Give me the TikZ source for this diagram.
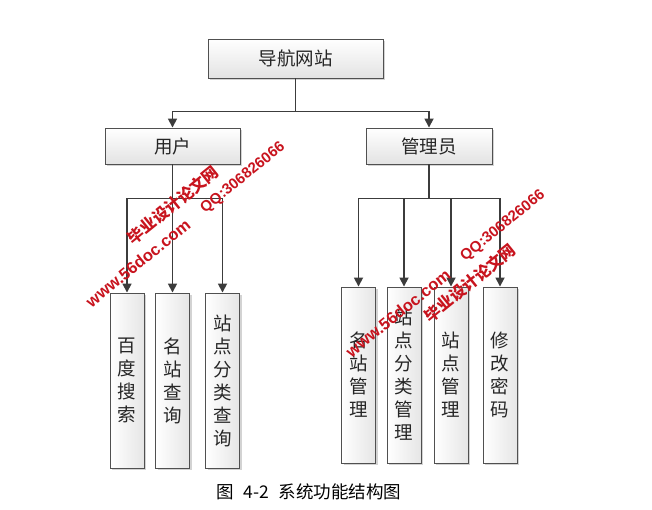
\documentclass[tikz,border=0pt]{standalone}
\usepackage{fontspec}
\setmainfont{Noto Sans CJK SC}
\newfontfamily\wmfont{Liberation Sans}
\usetikzlibrary{arrows.meta,shadows}
\definecolor{edgec}{HTML}{505050}
\definecolor{conn}{HTML}{3C3C3C}
\definecolor{wmc}{HTML}{C8141E}
\begin{document}
\begin{tikzpicture}[x=1pt,y=-1pt,
  basebox/.style={draw=edgec, line width=0.9pt, rectangle, inner sep=0pt,
    drop shadow={shadow xshift=2.2pt,shadow yshift=-2.2pt,opacity=0.35,fill=gray},
    text=black!85, font=\fontsize{18.5}{23}\selectfont},
  hbox/.style={basebox, top color=white, bottom color=gray!22},
  vbox/.style={basebox, left color=white, right color=gray!20, minimum width=34pt, align=center},
  conline/.style={draw=conn, line width=1.7pt},
  arr/.style={conline, -{Triangle[length=9pt,width=9pt]}},
  wm/.style={text=wmc, inner sep=0pt, rotate=39},
  wmlat/.style={wm, font=\wmfont\bfseries\fontsize{16.5}{16.5}\selectfont},
  wmcjk/.style={wm, font=\bfseries\fontsize{16}{16}\selectfont}
]
\useasboundingbox (0,0) rectangle (652,510);

% top level
\node[hbox, minimum width=175pt, minimum height=39pt] (nav) at (295.5,58.5) {导航网站};
\node[hbox, minimum width=135pt, minimum height=36pt] (user) at (172.5,146) {用户};
\node[hbox, minimum width=126pt, minimum height=36pt] (admin) at (429,146) {管理员};

% user children
\node[vbox, minimum height=175pt] (u1) at (127,380.5) {百\\度\\搜\\索};
\node[vbox, minimum height=175pt] (u2) at (172.5,380.5) {名\\站\\查\\询};
\node[vbox, minimum height=175pt] (u3) at (222.5,380.5) {站\\点\\分\\类\\查\\询};

% admin children
\node[vbox, minimum height=176pt] (a1) at (358.5,375) {名\\站\\管\\理};
\node[vbox, minimum height=176pt] (a2) at (404,375) {站\\点\\分\\类\\管\\理};
\node[vbox, minimum height=176pt] (a3) at (451,375) {站\\点\\管\\理};
\node[vbox, minimum height=176pt] (a4) at (500,375) {修\\改\\密\\码};

% connectors
\draw[conline] (nav.south) -- ++(0,33) coordinate (nj);
\draw[arr] (nj) -| (user.north);
\draw[arr] (nj) -| (admin.north);

\draw[conline] (user.south) -- ++(0,34) coordinate (uj);
\draw[arr] (uj) -| (u1.north);
\draw[arr] (uj) -- (u2.north);
\draw[arr] (uj) -| (u3.north);

\draw[conline] (admin.south) -- ++(0,34) coordinate (aj);
\draw[arr] (aj) -| (a1.north);
\draw[arr] (aj) -| (a2.north);
\draw[arr] (aj) -| (a3.north);
\draw[arr] (aj) -| (a4.north);

% caption
\node[font=\fontsize{17.5}{17.5}\selectfont, text=black] (cap) at (309,492) {图\hspace{0.55em}4-2\hspace{0.55em}系统功能结构图};

% watermarks
\node[wmlat] (w1) at (138,263) {www.56doc.com};
\node[wmcjk] (w2) at (173,205) {毕业设计论文网};
\node[wmlat, font=\wmfont\bfseries\fontsize{15}{15}\selectfont] (w3) at (243,178) {QQ:306826066};
\node[wmlat] (w4) at (398,313) {www.56doc.com};
\node[wmcjk] (w5) at (470,283) {毕业设计论文网};
\node[wmlat, font=\wmfont\bfseries\fontsize{15}{15}\selectfont] (w6) at (503,226) {QQ:306826066};
\end{tikzpicture}
\end{document}
